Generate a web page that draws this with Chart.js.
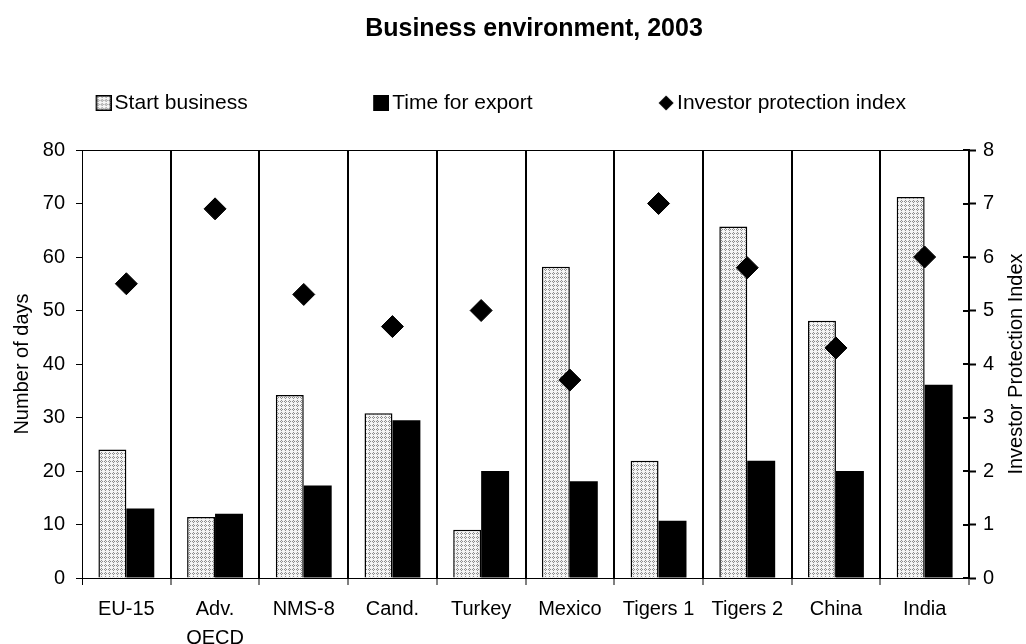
<!DOCTYPE html>
<html lang="en">
<head>
  <meta charset="UTF-8" />
  <title>Business environment, 2003</title>
  <script src="https://cdn.jsdelivr.net/npm/chart.js"></script>
  <style>
    html, body { margin: 0; padding: 0; background: #fff; }
    #wrap { width: 1026px; height: 644px; }
  </style>
</head>
<body>
  <div id="wrap"><canvas id="bizChart" width="1026" height="644"></canvas></div>

  <script>
    // data
    const categories = ['EU-15', ['Adv.', 'OECD'], 'NMS-8', 'Cand.', 'Turkey', 'Mexico', 'Tigers 1', 'Tigers 2', 'China', 'India'];
    const startBusiness = [24, 11.4, 34.2, 30.8, 9, 58.2, 21.9, 65.7, 48.1, 71.2];
    const timeForExport = [13, 12, 17.3, 29.5, 20, 18.1, 10.7, 21.9, 20, 36.1];
    const investorIndex = [5.5, 6.9, 5.3, 4.7, 5.0, 3.7, 7.0, 5.8, 4.3, 6.0];
    const dayTicks = [0, 10, 20, 30, 40, 50, 60, 70, 80];
    const indexTicks = [0, 1, 2, 3, 4, 5, 6, 7, 8];

    const FONT = 'Liberation Sans, Arial, sans-serif';
    const LEGEND_BOX = 124;   // legend box width (spacer + icon)
    const ICON_W = LEGEND_BOX + 15;

    const canvas = document.getElementById('bizChart');
    const mainCtx = canvas.getContext('2d');

    // small dotted tile, like the Excel "dotted" fill
    const tile = document.createElement('canvas');
    tile.width = 4; tile.height = 4;
    (function () {
      const g = tile.getContext('2d');
      g.fillStyle = '#f4f4f4';
      g.fillRect(0, 0, 4, 4);
      g.fillStyle = '#8c8c8c';
      [[1, 0], [0, 1], [2, 1], [1, 2]].forEach(([x, y]) => g.fillRect(x, y, 1, 1));
    })();
    const dotted = mainCtx.createPattern(tile, 'repeat');

    // legend icons: transparent spacer on the left, symbol on the right
    function legendIcon(kind) {
      const c = document.createElement('canvas');
      c.width = ICON_W; c.height = 16;
      const g = c.getContext('2d');
      const x0 = ICON_W - 16;
      if (kind === 'start') {
        g.fillStyle = g.createPattern(tile, 'repeat');
        g.fillRect(x0 + 1, 1, 14, 14);
        g.strokeStyle = '#000';
        g.lineWidth = 1.5;
        g.strokeRect(x0 + 0.75, 0.75, 14.5, 14.5);
      } else if (kind === 'export') {
        g.fillStyle = '#000';
        g.fillRect(x0, 0, 16, 16);
      } else {
        g.fillStyle = '#000';
        g.beginPath();
        g.moveTo(x0 + 8, 0.5);
        g.lineTo(x0 + 15.5, 8);
        g.lineTo(x0 + 8, 15.5);
        g.lineTo(x0 + 0.5, 8);
        g.closePath();
        g.fill();
      }
      return c;
    }
    const legendIcons = [legendIcon('start'), legendIcon('export'), legendIcon('diamond')];

    const axisExtras = {
      id: 'axisExtras',
      afterLayout(chart) {
        // nudge title and legend to where they sit in the original
        chart.titleBlock.left += 21;
        chart.titleBlock.right += 21;
        chart.legend.left -= 70;
        chart.legend.right -= 70;
      },
      afterDraw(chart) {
        const { ctx, chartArea } = chart;
        const y1 = chart.scales.y1;
        ctx.save();
        // right axis ticks cross the axis line
        ctx.strokeStyle = '#000';
        ctx.lineWidth = 2;
        y1.ticks.forEach(t => {
          const py = Math.round(y1.getPixelForValue(t.value));
          ctx.beginPath();
          ctx.moveTo(chartArea.right - 6, py);
          ctx.lineTo(chartArea.right, py);
          ctx.stroke();
        });
        // right axis title reads bottom to top
        ctx.translate(y1.right - 10, (chartArea.top + chartArea.bottom) / 2);
        ctx.rotate(-Math.PI / 2);
        ctx.fillStyle = '#000';
        ctx.font = '20px ' + FONT;
        ctx.textAlign = 'center';
        ctx.textBaseline = 'middle';
        ctx.fillText('Investor Protection Index', 0, 0);
        ctx.restore();
      }
    };

    new Chart(mainCtx, {
      data: {
        labels: categories,
        datasets: [
          {
            type: 'bar',
            label: 'Start business',
            data: startBusiness,
            backgroundColor: dotted,
            borderColor: '#000',
            borderWidth: 1.5,
            yAxisID: 'y',
            order: 1
          },
          {
            type: 'bar',
            label: 'Time for export',
            data: timeForExport,
            backgroundColor: '#000',
            borderColor: '#000',
            borderWidth: 0,
            yAxisID: 'y',
            order: 1
          },
          {
            type: 'line',
            label: 'Investor protection index',
            data: investorIndex,
            showLine: false,
            pointStyle: 'rectRot',
            pointRadius: 11,
            pointBackgroundColor: '#000',
            pointBorderColor: '#000',
            pointBorderWidth: 1,
            yAxisID: 'y1',
            order: 0
          }
        ]
      },
      options: {
        responsive: false,
        animation: false,
        events: [],
        layout: { padding: 0 },
        datasets: {
          bar: { barPercentage: 1, categoryPercentage: 0.63 }
        },
        plugins: {
          tooltip: { enabled: false },
          title: {
            display: true,
            text: 'Business environment, 2003',
            color: '#000',
            font: { family: FONT, size: 25, weight: 'bold', lineHeight: 1.2 },
            padding: { top: 14, bottom: 38.5 }
          },
          legend: {
            display: true,
            labels: {
              color: '#000',
              font: { family: FONT, size: 21 },
              usePointStyle: true,
              pointStyleWidth: LEGEND_BOX,
              padding: 10,
              generateLabels(chart) {
                const items = Chart.defaults.plugins.legend.labels.generateLabels(chart);
                items.sort((a, b) => a.datasetIndex - b.datasetIndex);
                items.forEach(it => { it.pointStyle = legendIcons[it.datasetIndex]; });
                return items;
              }
            }
          }
        },
        scales: {
          x: {
            type: 'category',
            position: 'bottom',
            offset: true,
            grid: {
              offset: true,
              color: '#000',
              lineWidth: (c) => (c.index === 0 ? 1 : 2),
              tickLength: 7,
              tickWidth: 1,
              tickColor: '#000'
            },
            border: { display: true, color: '#000', width: 1 },
            ticks: {
              color: '#000',
              padding: 9.5,
              maxRotation: 0,
              autoSkip: false,
              font: { family: FONT, size: 20, lineHeight: 1.45 }
            },
            afterFit: (s) => { s.height = 66; }
          },
          xTop: {
            type: 'category',
            position: 'top',
            labels: categories,
            grid: { display: false },
            ticks: { display: false },
            border: { display: true, color: '#000', width: 1 },
            afterFit: (s) => { s.height = 26.5; }
          },
          y: {
            type: 'linear',
            position: 'left',
            min: 0,
            max: 80,
            afterBuildTicks: (s) => { s.ticks = dayTicks.map(v => ({ value: v })); },
            grid: { drawOnChartArea: false, tickLength: 6, tickColor: '#000', tickWidth: 1 },
            border: { display: true, color: '#000', width: 1 },
            ticks: { color: '#000', padding: 11, font: { family: FONT, size: 20 } },
            title: {
              display: true,
              text: 'Number of days',
              color: '#000',
              font: { family: FONT, size: 20 },
              padding: { top: 10, bottom: 4 }
            },
            afterFit: (s) => { s.width = 82; }
          },
          y1: {
            type: 'linear',
            position: 'right',
            min: 0,
            max: 8,
            afterBuildTicks: (s) => { s.ticks = indexTicks.map(v => ({ value: v })); },
            grid: { drawOnChartArea: false, tickLength: 7, tickColor: '#000', tickWidth: 2 },
            border: { display: true, color: '#000', width: 2 },
            ticks: { color: '#000', padding: 7, font: { family: FONT, size: 20 } },
            afterFit: (s) => { s.width = 57; }
          }
        }
      },
      plugins: [axisExtras]
    });
  </script>
</body>
</html>
